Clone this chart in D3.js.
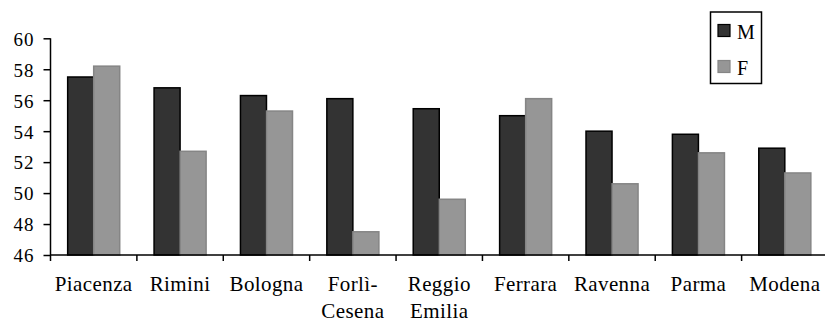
<!DOCTYPE html>
<html>
<head>
<meta charset="utf-8">
<script src="https://cdn.jsdelivr.net/npm/d3@7/dist/d3.min.js"></script>
<style>
  html, body { margin: 0; padding: 0; background: #fff; }
  svg { display: block; }
  text { font-family: "Liberation Serif", "Times New Roman", serif; fill: #000; }
</style>
</head>
<body>
<svg id="chart" width="825" height="322"></svg>
<script>
// Province names (lines split for two-row labels)
const provinces = [["Piacenza"], ["Rimini"], ["Bologna"], ["Forlì-", "Cesena"], ["Reggio", "Emilia"], ["Ferrara"], ["Ravenna"], ["Parma"], ["Modena"]];
const seriesNames = ["M", "F"];
const valuesM = [57.5, 56.8, 56.3, 56.1, 55.45, 55.0, 54.0, 53.8, 52.9];
const valuesF = [58.2, 52.7, 55.3, 47.5, 49.6, 56.1, 50.6, 52.6, 51.3];
const yTicks = [46, 48, 50, 52, 54, 56, 58, 60];

const colors = { M: "#333333", F: "#969696" };
const strokes = { M: "#000000", F: "#858585" };

const svg = d3.select("#chart");
const keys = provinces.map(p => p.join(" "));

const x = d3.scaleBand().domain(keys).range([50.5, 828]).paddingInner(0).paddingOuter(0);
const xInner = d3.scaleBand().domain(seriesNames).range([0, x.bandwidth()]).paddingInner(0).paddingOuter(0.66);
const y = d3.scaleLinear().domain([46, 60]).range([255, 38.3]);

const rows = keys.map((k, i) => ({ key: k, M: valuesM[i], F: valuesF[i] }));

// Bars
const groups = svg.append("g").selectAll("g").data(rows).join("g")
  .attr("transform", d => `translate(${x(d.key)},0)`);
groups.selectAll("rect").data(d => seriesNames.map(s => ({ s, v: d[s] }))).join("rect")
  .attr("x", d => xInner(d.s))
  .attr("width", xInner.bandwidth())
  .attr("y", d => y(d.v))
  .attr("height", d => y(46) - y(d.v))
  .attr("fill", d => colors[d.s])
  .attr("stroke", d => strokes[d.s])
  .attr("stroke-width", 1.5);

// Y axis
const yAxis = svg.append("g").attr("transform", "translate(50.5,0)")
  .call(d3.axisLeft(y).tickValues(yTicks).tickSize(7).tickPadding(9).tickFormat(d3.format("d")));
yAxis.attr("font-family", null);
yAxis.select(".domain").attr("stroke", "#000").attr("stroke-width", 1.5).attr("d", `M0,${y(60)}V${y(46) + 6}`);
yAxis.selectAll(".tick line").attr("stroke", "#000").attr("stroke-width", 1.5);
yAxis.selectAll(".tick text").attr("font-size", 19).attr("letter-spacing", 1).attr("dy", "0.36em");

// X axis baseline and category separators
svg.append("line").attr("x1", 50.5).attr("x2", 828).attr("y1", y(46)).attr("y2", y(46))
  .attr("stroke", "#000").attr("stroke-width", 1.5);
svg.append("g").selectAll("line").data(keys.slice(1)).join("line")
  .attr("x1", d => x(d)).attr("x2", d => x(d))
  .attr("y1", y(46)).attr("y2", y(46) + 6)
  .attr("stroke", "#000").attr("stroke-width", 1.5);

// Category labels
const labels = svg.append("g").selectAll("text").data(provinces).join("text")
  .attr("x", (d, i) => x(keys[i]) + x.bandwidth() / 2)
  .attr("y", 290.5)
  .attr("text-anchor", "middle")
  .attr("font-size", 21)
  .attr("letter-spacing", 0.4);
labels.selectAll("tspan").data(d => d).join("tspan")
  .attr("x", function () { return this.parentNode.getAttribute("x"); })
  .attr("dy", (d, i) => i === 0 ? 0 : 27.5)
  .text(d => d);

// Legend
const legend = svg.append("g");
legend.append("rect").attr("x", 710.5).attr("y", 12).attr("width", 51).attr("height", 71.5)
  .attr("fill", "#fff").attr("stroke", "#000").attr("stroke-width", 1.5);
const ly = d3.scalePoint().domain(seriesNames).range([30.5, 66.5]);
const items = legend.selectAll("g.item").data(seriesNames).join("g").attr("class", "item");
items.append("rect")
  .attr("x", 718).attr("y", d => ly(d) - 6).attr("width", 12).attr("height", 12)
  .attr("fill", d => colors[d]).attr("stroke", d => strokes[d]).attr("stroke-width", 1.2);
items.append("text")
  .attr("x", 737).attr("y", d => ly(d) + 8)
  .attr("font-size", 20)
  .text(d => d);
</script>
</body>
</html>
